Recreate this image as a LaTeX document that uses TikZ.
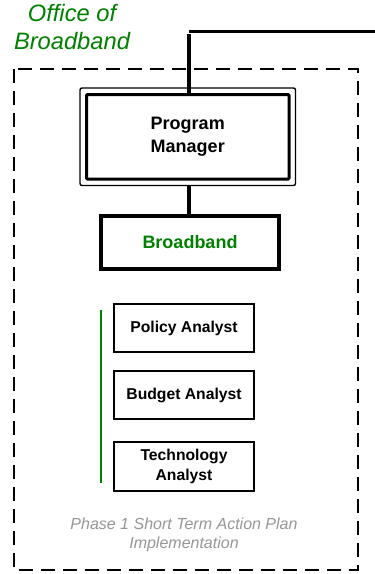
\documentclass[tikz,border=0pt]{standalone}
\usepackage{fontspec}
\setmainfont{Liberation Sans}
\definecolor{ogreen}{RGB}{0,128,0}
\definecolor{pgray}{RGB}{150,150,150}
\begin{document}
\begin{tikzpicture}[x=1pt,y=-1pt,
  box/.style={draw, rectangle, align=center, font=\bfseries\fontsize{15.7}{19.7}\selectfont, line width=1.7pt, inner sep=0pt},
  conn/.style={line width=3.2pt}]
\useasboundingbox (0,0) rectangle (375,574);
% dashed frame
\draw[line width=2pt, dash pattern=on 14pt off 8pt] (14,69) rectangle (358,570);
% title
\node[align=center, text=ogreen, font=\itshape\fontsize{23.7}{28.5}\selectfont] (title) at (72,27) {Office of\\Broadband};
% program manager
\node[box, line width=3pt, minimum width=202.5pt, minimum height=84.5pt, rounded corners=1pt,
  font=\bfseries\fontsize{18}{22.7}\selectfont] (pm) at (187.75,136.75) {Program\\Manager};
\draw[line width=1.4pt, rounded corners=2pt] ([shift={(-5pt,5pt)}]pm.north west) rectangle ([shift={(5pt,-5pt)}]pm.south east);
% broadband
\node[box, line width=3.2pt, minimum width=178pt, minimum height=53pt, text=ogreen,
  font=\bfseries\fontsize{18}{22}\selectfont] (bb) at (190,242.5) {Broadband};
% analysts
\node[box, minimum width=140pt, minimum height=48pt] (pa) at (184,328) {Policy Analyst};
\node[box, minimum width=140pt, minimum height=48pt] (ba) at (184,395) {Budget Analyst};
\node[box, minimum width=140pt, minimum height=49pt] (ta) at (184,466.5) {Technology\\Analyst};
% green bracket line
\draw[ogreen, line width=2.5pt] (101,310) -- (101,483);
% phase text
\node[align=center, text=pgray, font=\itshape\fontsize{16}{18.7}\selectfont] (ph) at (184,535) {Phase 1 Short Term Action Plan\\Implementation};
% connectors
\coordinate (ext) at (375,31.5);
\coordinate (corner) at (189,31.5);
\draw[conn] (ext) -- (corner);
\draw[conn] (corner) ++(0,2.5) -- (corner |- pm.north);
\draw[conn] (pm.south -| corner) ++(0,5) -- (corner |- bb.north);
\end{tikzpicture}
\end{document}
